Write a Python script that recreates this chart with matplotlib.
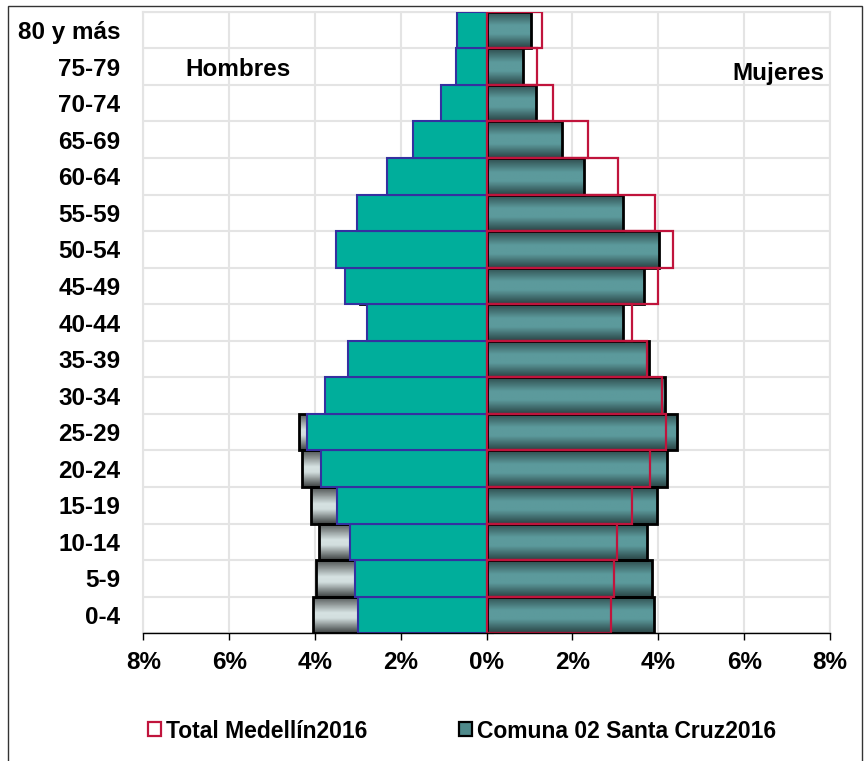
import numpy as np
import matplotlib
matplotlib.use("Agg")
import matplotlib.pyplot as plt
from matplotlib.colors import LinearSegmentedColormap
from matplotlib.patches import Patch, Rectangle

# ---------------- data (percent of population) ----------------
age_groups = ["0-4", "5-9", "10-14", "15-19", "20-24", "25-29", "30-34", "35-39",
              "40-44", "45-49", "50-54", "55-59", "60-64", "65-69", "70-74",
              "75-79", "80 y más"]
medellin_hombres = [3.00, 3.07, 3.19, 3.49, 3.86, 4.19, 3.77, 3.23,
                    2.78, 3.31, 3.52, 3.03, 2.33, 1.72, 1.07, 0.72, 0.68]
comuna_hombres = [4.05, 3.98, 3.91, 4.09, 4.30, 4.37, 3.68, 3.15,
                  2.60, 2.95, 3.20, 2.65, 1.95, 1.40, 0.85, 0.60, 0.55]
medellin_mujeres = [2.89, 2.97, 3.04, 3.39, 3.81, 4.17, 4.08, 3.74,
                    3.38, 3.99, 4.35, 3.92, 3.05, 2.35, 1.55, 1.17, 1.30]
comuna_mujeres = [3.89, 3.86, 3.74, 3.98, 4.21, 4.44, 4.16, 3.78,
                  3.17, 3.66, 4.02, 3.17, 2.27, 1.75, 1.14, 0.85, 1.03]
x_ticks = [-8, -6, -4, -2, 0, 2, 4, 6, 8]
x_tick_labels = ["8%", "6%", "4%", "2%", "0%", "2%", "4%", "6%", "8%"]
label_total = "Total Medellín2016"
label_comuna = "Comuna 02 Santa Cruz2016"

# ---------------- style ----------------
plt.rcParams['font.family'] = ['Liberation Sans', 'DejaVu Sans']
plt.rcParams['font.weight'] = 'bold'
FS = 17.5
TEAL = "#00AE9B"
NAVY = "#3530A0"
RED = "#C0143C"
GRID = "#E4E4E4"

cmap_teal = LinearSegmentedColormap.from_list(
    "teal", [(0.0, "#2E4C4D"), (0.38, "#5C9A9C"), (0.62, "#5C9A9C"), (1.0, "#2A4546")])
cmap_gray = LinearSegmentedColormap.from_list(
    "gray", [(0.0, "#4E5252"), (0.45, "#D6E2E2"), (0.6, "#D2DEDE"), (1.0, "#3E4242")])

fig = plt.figure(figsize=(8.68, 7.61), dpi=100)
ax = fig.add_axes([143.3 / 868, 1 - 633.3 / 761, (830 - 143.3) / 868, (633.3 - 11.7) / 761])

y = np.arange(len(age_groups))
grad = np.linspace(0, 1, 64).reshape(-1, 1)


def gradient_bars(bars, cmap, z):
    for b in bars:
        x0, y0 = b.get_x(), b.get_y()
        w, h = b.get_width(), b.get_height()
        im = ax.imshow(grad, cmap=cmap, aspect='auto', origin='upper',
                       extent=(min(x0, x0 + w), max(x0, x0 + w), y0, y0 + h),
                       zorder=z, interpolation='bilinear')
        im.set_clip_path(b)


# men - comuna (gradient gray) behind
b_ch = ax.barh(y, -np.array(comuna_hombres), height=1.0, facecolor='none',
               edgecolor='black', linewidth=2.0, zorder=3)
gradient_bars(b_ch, cmap_gray, 2.5)
# men - total medellin (teal)
ax.barh(y, -np.array(medellin_hombres), height=1.0, facecolor=TEAL,
        edgecolor=NAVY, linewidth=1.5, zorder=4)
# women - comuna (gradient teal)
b_cm = ax.barh(y, comuna_mujeres, height=1.0, facecolor='none',
               edgecolor='black', linewidth=2.0, zorder=3)
gradient_bars(b_cm, cmap_teal, 2.5)
# women - total medellin (outline)
ax.barh(y, medellin_mujeres, height=1.0, facecolor='none',
        edgecolor=RED, linewidth=1.6, zorder=4)

ax.set_xlim(-8, 8)
ax.set_ylim(-0.5, len(age_groups) - 0.5)

# grid
ax.set_xticks(x_ticks)
ax.set_xticklabels(x_tick_labels, fontsize=FS, fontweight='bold')
ax.set_yticks(y)
ax.set_yticklabels(age_groups, fontsize=FS, fontweight='bold')
ax.set_yticks(np.arange(-0.5, len(age_groups), 1.0), minor=True)
ax.grid(True, axis='x', which='major', color=GRID, linewidth=1.5, zorder=0)
ax.grid(True, axis='y', which='minor', color=GRID, linewidth=1.5, zorder=0)
ax.set_axisbelow(True)
ax.tick_params(axis='y', which='both', length=0, pad=16.5)
ax.tick_params(axis='x', which='major', length=5, width=1, direction='out',
               pad=7.5, color='black')
for s in ['left', 'right', 'top']:
    ax.spines[s].set_color(GRID)
    ax.spines[s].set_linewidth(1.5)
ax.spines['bottom'].set_color('black')
ax.spines['bottom'].set_linewidth(1.0)
ax.spines['bottom'].set_zorder(6)

# category ticks along the zero line
sec = ax.secondary_yaxis(0.5)
sec.set_yticks(np.arange(-0.5, len(age_groups), 1.0))
sec.tick_params(axis='y', length=5, width=1.5, direction='out', labelleft=False,
                labelright=False, color='black')
for s in sec.spines.values():
    s.set_visible(False)

# sex labels
fig.text(238 / 868, 1 - 76 / 761, "Hombres", ha='center', va='baseline',
         fontsize=FS, fontweight='bold')
fig.text(778 / 868, 1 - 80 / 761, "Mujeres", ha='center', va='baseline',
         fontsize=FS, fontweight='bold')

# legend
handles = [Patch(facecolor='white', edgecolor=RED, linewidth=1.6, label=label_total),
           Patch(facecolor="#4F8A8B", edgecolor='black', linewidth=1.6, label=label_comuna)]
fig.legend(handles=handles, loc='center', bbox_to_anchor=(462 / 868, 1 - 731 / 761),
           ncol=2, frameon=False, fontsize=16.5, handlelength=0.57, handleheight=0.57,
           handletextpad=0.2, columnspacing=4.0, prop={'weight': 'bold', 'size': 16.5})

# outer border
fig.add_artist(Rectangle((8 / 868, -0.02), (862 - 8) / 868, 1 - 6 / 761 + 0.02,
                         transform=fig.transFigure, fill=False, edgecolor='#333333',
                         linewidth=1.0))

fig.savefig("out.png", dpi=100)
